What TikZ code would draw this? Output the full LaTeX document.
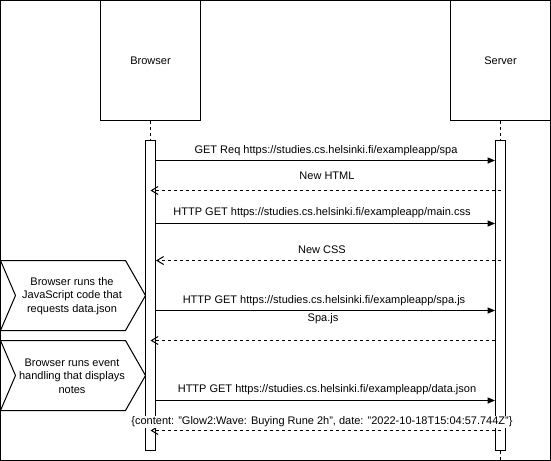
\documentclass[tikz,border=0pt]{standalone}
\usepackage{fontspec}
\setmainfont{Liberation Sans}
\usetikzlibrary{arrows.meta}

\begin{document}
\begin{tikzpicture}[x=0.75pt,y=0.75pt,yscale=-1,xscale=1,
  font=\fontsize{8.25}{10}\selectfont, line width=0.75pt,
  actor/.style={draw, fill=white, minimum width=75pt, minimum height=90pt, inner sep=0pt},
  activ/.style={draw, fill=white, minimum width=7.5pt, minimum height=232.5pt, inner sep=0pt},
  msglbl/.style={inner sep=0.75pt},
  req/.style={-{Triangle[length=5.5pt,width=4.5pt]}},
  ret/.style={dash pattern=on 2.25pt off 2.25pt, -{Straight Barb[length=5pt,width=6pt]}},
  life/.style={dash pattern=on 2.25pt off 2.25pt}]
\useasboundingbox (0,0) rectangle (551,461);
%Frame
\draw (0.5,0.5) rectangle (550.5,460.5);

%Lifelines
\node[actor] (browser) at (150.5,60.5) {Browser};
\node[actor] (server) at (500.5,60.5) {Server};
\node[activ] (bact) at (150.5,295.5) {};
\node[activ] (sact) at (500.5,295.5) {};
\draw[life] (browser.south) -- (bact.north);
\draw[life] (server.south) -- (sact.north);
\draw[life] (sact.south) -- ++(0,10);

%Steps on the browser side
\draw (0.5,260.5) -- (125.5,260.5) -- (145.5,295.5) -- (125.5,330.5) -- (0.5,330.5) -- (15.5,295.5) -- cycle;
\node[align=center] (step1) at (72,296) {Browser runs the\\JavaScript code that\\requests data.json};
\draw (0.5,340.5) -- (125.5,340.5) -- (145.5,375.5) -- (125.5,410.5) -- (0.5,410.5) -- (15.5,375.5) -- cycle;
\node[align=center] (step2) at (72,376) {Browser runs event\\handling that displays\\notes};

%Messages
\draw[req] (bact.east |- 0,160.5) -- (sact.west |- 0,160.5);
\node[msglbl] (m1) at (326,151) {GET Req https://studies.cs.helsinki.fi/exampleapp/spa};

\draw[ret] (sact.center |- 0,190.5) -- (bact.center |- 0,190.5);
\node[msglbl] (m2) at (327,176) {New HTML};

\draw[req] (bact.east |- 0,223.5) -- (sact.west |- 0,223.5);
\node[msglbl] (m3) at (322,213) {HTTP GET https://studies.cs.helsinki.fi/exampleapp/main.css};

\draw[ret] (sact.center |- 0,260.5) -- (bact.east |- 0,260.5);
\node[msglbl] (m4) at (322,250) {New CSS};

\draw[req] (bact.east |- 0,310.5) -- (sact.west |- 0,310.5);
\node[msglbl] (m5) at (324,301) {HTTP GET https://studies.cs.helsinki.fi/exampleapp/spa.js};

\draw[ret] (sact.west |- 0,340.5) -- (bact.center |- 0,340.5);
\node[msglbl] (m6) at (323,319) {Spa.js};

\draw[req] (bact.east |- 0,400.5) -- (sact.west |- 0,400.5);
\node[msglbl] (m7) at (327,390) {HTTP GET https://studies.cs.helsinki.fi/exampleapp/data.json};

\draw[ret] (sact.center |- 0,430.5) -- (bact.center |- 0,430.5);
\node[msglbl, fill=white] (m8) at (322,422) {\{content: "Glow2:Wave: Buying Rune 2h", date: "2022-10-18T15:04:57.744Z"\}};
\end{tikzpicture}
\end{document}
